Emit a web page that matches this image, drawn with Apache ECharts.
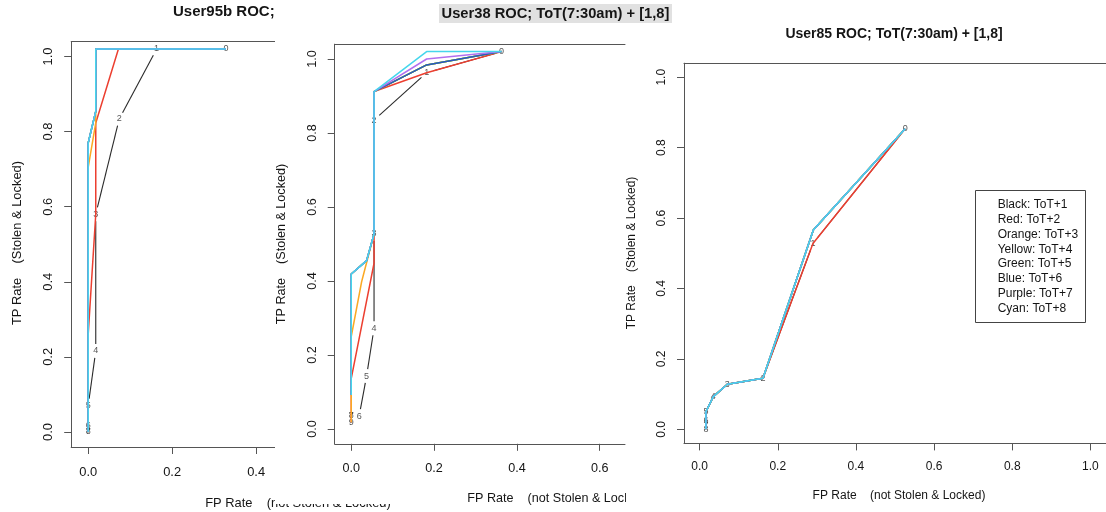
<!DOCTYPE html>
<html><head><meta charset="utf-8">
<script src="https://cdn.jsdelivr.net/npm/echarts@6/dist/echarts.min.js"></script>
<style>html,body{margin:0;padding:0;background:#fff}#c{width:1106px;height:512px}</style>
</head><body><div id="c"></div>
<script>
// ---------------- data ----------------
const curveNames = ['ToT+1','ToT+2','ToT+3','ToT+4','ToT+5','ToT+6','ToT+7','ToT+8'];
const legendLabels = ['Black: ToT+1','Red: ToT+2','Orange: ToT+3','Yellow: ToT+4','Green: ToT+5','Blue: ToT+6','Purple: ToT+7','Cyan: ToT+8'];
const cutoffLabels = ['0','1','2','3','4','5','6','7','8','9'];
const tickValues = [0, 0.2, 0.4, 0.6, 0.8, 1.0];
const panelTitles = ['User95b ROC;', 'User38 ROC; ToT(7:30am) + [1,8]', 'User85 ROC; ToT(7:30am) + [1,8]'];
const xAxisTitle = 'FP Rate    (not Stolen & Locked)';
const yAxisTitle = 'TP Rate    (Stolen & Locked)';

// User95b: [FP rate, TP rate] per cutoff
const u95_tot1 = [[0.328,1.02],[0.163,1.02],[0.074,0.834],[0.018,0.58],[0.018,0.216],[0,0.07],[0,0.017],[0,0],[0,0]];
const u95_tot2 = [[0.328,1.02],[0.072,1.02],[0.018,0.823],[0.018,0.58],[0,0.26],[0,0.07],[0,0.017],[0,0],[0,0]];
const u95_tot3 = [[0.328,1.02],[0.018,1.02],[0.018,0.823],[0,0.705],[0,0.07],[0,0.017],[0,0],[0,0]];
const u95_tot4 = [[0.328,1.02],[0.018,1.02],[0.018,0.854],[0,0.77],[0,0.07],[0,0.017],[0,0],[0,0]];
const u95_tot5 = [[0.328,1.02],[0.018,1.02],[0.018,0.854],[0,0.77],[0,0.07],[0,0.017],[0,0],[0,0]];
const u95_tot6 = [[0.328,1.02],[0.018,1.02],[0.018,0.854],[0,0.77],[0,0.07],[0,0.017],[0,0],[0,0]];
const u95_tot7 = [[0.328,1.02],[0.018,1.02],[0.018,0.854],[0,0.77],[0,0.07],[0,0.017],[0,0],[0,0]];
const u95_tot8 = [[0.328,1.02],[0.018,1.02],[0.018,0.854],[0,0.77],[0,0.07],[0,0.017],[0,0],[0,0]];

// User38
const u38_tot1 = [[0.363,1.02],[0.182,0.963],[0.055,0.835],[0.055,0.527],[0.055,0.272],[0.037,0.143],[0.019,0.035],[0,0.036],[0,0.036],[0,0.018]];
const u38_tot2 = [[0.363,1.02],[0.182,0.963],[0.055,0.912],[0.055,0.527],[0.055,0.448],[0,0.137],[0,0.036],[0,0.036],[0,0.018]];
const u38_tot3 = [[0.363,1.02],[0.182,0.984],[0.055,0.912],[0.055,0.527],[0.025,0.398],[0,0.25],[0,0.036],[0,0.036],[0,0.018]];
const u38_tot4 = [[0.363,1.02],[0.182,0.984],[0.055,0.912],[0.055,0.527],[0.037,0.455],[0,0.419],[0,0.092]];
const u38_tot5 = [[0.363,1.02],[0.182,0.984],[0.055,0.912],[0.055,0.527],[0.037,0.455],[0,0.419],[0,0.092]];
const u38_tot6 = [[0.363,1.02],[0.182,0.984],[0.055,0.912],[0.055,0.527],[0.037,0.455],[0,0.419],[0,0.092]];
const u38_tot7 = [[0.363,1.02],[0.182,1.0],[0.055,0.912],[0.055,0.527],[0.037,0.455],[0,0.419],[0,0.092]];
const u38_tot8 = [[0.363,1.02],[0.182,1.02],[0.055,0.912],[0.055,0.527],[0.037,0.455],[0,0.419],[0,0.092]];

// User85
const u85_tot1 = [[0.526,0.854],[0.290,0.528],[0.162,0.145],[0.071,0.128],[0.035,0.093],[0.016,0.05],[0.016,0.026],[0.016,0.01],[0.016,0]];
const u85_tot2 = [[0.526,0.854],[0.290,0.528],[0.162,0.145],[0.071,0.128],[0.035,0.093],[0.016,0.05],[0.016,0.026],[0.016,0.01],[0.016,0]];
const u85_tot3 = [[0.526,0.854],[0.291,0.566],[0.162,0.145],[0.071,0.128],[0.035,0.093],[0.016,0.05],[0.016,0.026],[0.016,0.01],[0.016,0]];
const u85_tot4 = [[0.526,0.854],[0.291,0.566],[0.162,0.145],[0.071,0.128],[0.035,0.093],[0.016,0.05],[0.016,0.026],[0.016,0.01],[0.016,0]];
const u85_tot5 = [[0.526,0.854],[0.291,0.566],[0.162,0.145],[0.071,0.128],[0.035,0.093],[0.016,0.05],[0.016,0.026],[0.016,0.01],[0.016,0]];
const u85_tot6 = [[0.526,0.854],[0.291,0.566],[0.162,0.145],[0.071,0.128],[0.035,0.093],[0.016,0.05],[0.016,0.026],[0.016,0.01],[0.016,0]];
const u85_tot7 = [[0.526,0.854],[0.291,0.566],[0.162,0.145],[0.071,0.128],[0.035,0.093],[0.016,0.05],[0.016,0.026],[0.016,0.01],[0.016,0]];
const u85_tot8 = [[0.526,0.854],[0.291,0.566],[0.162,0.145],[0.071,0.128],[0.035,0.093],[0.016,0.05],[0.016,0.026],[0.016,0.01],[0.016,0]];

// ---------------- styling / layout ----------------
const FONT = '"Liberation Sans", Arial, Helvetica, sans-serif';
const curveColors = ['#2a2a2a','#ec3f30','#fba823','#f1e01c','#34c24b','#2e55c4','#b070f0','#45d6ec'];
const AXIS_COLOR = '#555';
const TEXT_COLOR = '#151515';
const GAP = 7;

const panels = [
  { curves:[u95_tot1,u95_tot2,u95_tot3,u95_tot4,u95_tot5,u95_tot6,u95_tot7,u95_tot8],
    grid:{left:71.2, top:41.5, width:203.8, height:405.5}, xmin:-0.0405, xmax:0.445,
    fs:12.9, base:1, xMargin:19 },
  { curves:[u38_tot1,u38_tot2,u38_tot3,u38_tot4,u38_tot5,u38_tot6,u38_tot7,u38_tot8],
    grid:{left:334.7, top:44.2, width:290.3, height:399.6}, xmin:-0.04, xmax:0.661,
    fs:12.6, base:11, xMargin:18 },
  { curves:[u85_tot1,u85_tot2,u85_tot3,u85_tot4,u85_tot5,u85_tot6,u85_tot7,u85_tot8],
    grid:{left:684, top:63.2, width:425.1, height:380.2}, xmin:-0.04, xmax:1.04,
    fs:12, base:21, xMargin:17 }
];

const grids = [], xAxes = [], yAxes = [], series = [];
panels.forEach((p, gi) => {
  grids.push(Object.assign({show:false, z:p.base}, p.grid));
  const xt = tickValues.filter(v => v <= p.xmax + 1e-9);
  xAxes.push({
    gridIndex:gi, type:'value', min:p.xmin, max:p.xmax, position:'bottom', z:p.base,
    axisLine:{show:true, onZero:false, lineStyle:{color:AXIS_COLOR, width:1}},
    axisTick:{show:true, inside:false, length:7, customValues:xt, lineStyle:{color:AXIS_COLOR, width:1}},
    axisLabel:{show:true, customValues:xt, formatter:v => v.toFixed(1), margin:p.xMargin,
      fontSize:p.fs, color:TEXT_COLOR, fontFamily:FONT},
    splitLine:{show:false}
  });
  xAxes.push({
    gridIndex:gi, type:'value', min:p.xmin, max:p.xmax, position:'top', z:p.base,
    axisLine:{show:true, onZero:false, lineStyle:{color:AXIS_COLOR, width:1}},
    axisTick:{show:false}, axisLabel:{show:false}, splitLine:{show:false}
  });
  yAxes.push({
    gridIndex:gi, type:'value', min:-0.04, max:1.04, position:'left', z:p.base,
    axisLine:{show:true, onZero:false, lineStyle:{color:AXIS_COLOR, width:1}},
    axisTick:{show:true, inside:false, length:7, customValues:tickValues, lineStyle:{color:AXIS_COLOR, width:1}},
    axisLabel:{show:true, customValues:tickValues, formatter:v => v.toFixed(1), rotate:90, margin:16,
      fontSize:p.fs, color:TEXT_COLOR, fontFamily:FONT},
    splitLine:{show:false}
  });

  // black curve (ToT+1): lines with gaps around the cutoff labels, R type="b" style
  const pts = p.curves[0];
  series.push({
    type:'custom', name:curveNames[0], xAxisIndex:gi*2, yAxisIndex:gi, z:p.base+1,
    silent:true, animation:false,
    data: pts.map(d => [d[0], d[1]]),
    renderItem: function(params, api) {
      const i = params.dataIndex;
      if (i === 0) return;
      const a = api.coord(pts[i-1]);
      const b = api.coord([api.value(0), api.value(1)]);
      const dx = b[0]-a[0], dy = b[1]-a[1], L = Math.hypot(dx, dy);
      if (L <= 2*GAP) return;
      const ux = dx/L, uy = dy/L;
      return {type:'line', shape:{x1:a[0]+ux*GAP, y1:a[1]+uy*GAP, x2:b[0]-ux*GAP, y2:b[1]-uy*GAP},
        style:{stroke:curveColors[0], lineWidth:1.1}};
    }
  });
  series.push({
    type:'scatter', xAxisIndex:gi*2, yAxisIndex:gi, z:p.base+1, silent:true, animation:false,
    data: pts.map(d => [d[0], d[1]]), symbolSize:1, itemStyle:{color:'rgba(0,0,0,0)'},
    label:{show:true, position:'inside', formatter:q => cutoffLabels[q.dataIndex],
      fontSize:9, color:'#2a2a2a', fontFamily:FONT}
  });
  for (let c = 1; c < 8; c++) {
    series.push({
      type:'line', name:curveNames[c], xAxisIndex:gi*2, yAxisIndex:gi, z:p.base+2,
      data:p.curves[c], symbol:'none', silent:true, animation:false,
      lineStyle:{color:curveColors[c], width:1.5}
    });
  }
});

const graphics = [
  // panel 1 texts
  {type:'text', z:1, x:173, y:12, style:{text:panelTitles[0], font:'bold 15px '+FONT, fill:TEXT_COLOR, textVerticalAlign:'middle'}},
  {type:'text', z:1, x:298, y:503.5, style:{text:xAxisTitle, font:'12.9px '+FONT, fill:TEXT_COLOR, textAlign:'center', textVerticalAlign:'middle'}},
  {type:'text', z:1, x:17, y:243, rotation:Math.PI/2, style:{text:yAxisTitle, font:'12.9px '+FONT, fill:TEXT_COLOR, textAlign:'center', textVerticalAlign:'middle'}},
  // panel 2 sheet
  {type:'rect', z:10, shape:{x:275, y:0, width:351, height:504}, style:{fill:'#fff'}},
  {type:'text', z:11, x:558, y:498.5, style:{text:xAxisTitle, font:'12.6px '+FONT, fill:TEXT_COLOR, textAlign:'center', textVerticalAlign:'middle'}},
  {type:'text', z:11, x:282, y:244, rotation:Math.PI/2, style:{text:yAxisTitle, font:'12.6px '+FONT, fill:TEXT_COLOR, textAlign:'center', textVerticalAlign:'middle'}},
  // panel 3 sheet
  {type:'rect', z:20, shape:{x:626, y:25, width:480, height:487}, style:{fill:'#fff'}},
  {type:'text', z:21, x:894, y:34, style:{text:panelTitles[2], font:'bold 14px '+FONT, fill:TEXT_COLOR, textAlign:'center', textVerticalAlign:'middle'}},
  {type:'text', z:21, x:899, y:495.7, style:{text:xAxisTitle, font:'12px '+FONT, fill:TEXT_COLOR, textAlign:'center', textVerticalAlign:'middle'}},
  {type:'text', z:21, x:632, y:253, rotation:Math.PI/2, style:{text:yAxisTitle, font:'12px '+FONT, fill:TEXT_COLOR, textAlign:'center', textVerticalAlign:'middle'}},
  {type:'rect', z:25, shape:{x:975.5, y:190.5, width:110, height:132}, style:{fill:'#fff', stroke:'#444', lineWidth:1}},
  // panel 2 title with selection highlight (on top of everything)
  {type:'rect', z:30, shape:{x:439, y:4, width:233, height:19}, style:{fill:'#e1e1e1'}},
  {type:'text', z:31, x:555.5, y:13.5, style:{text:panelTitles[1], font:'bold 14.7px '+FONT, fill:TEXT_COLOR, textAlign:'center', textVerticalAlign:'middle'}}
];
legendLabels.forEach((t, i) => {
  graphics.push({type:'text', z:26, x:997.7, y:205 + i*14.76,
    style:{text:t, font:'12px '+FONT, fill:TEXT_COLOR, textVerticalAlign:'middle'}});
});

const chart = echarts.init(document.getElementById('c'), null, {renderer:'canvas'});
chart.setOption({
  animation:false,
  backgroundColor:'#fff',
  grid:grids, xAxis:xAxes, yAxis:yAxes, series:series,
  graphic:{elements:graphics}
});
</script></body></html>
